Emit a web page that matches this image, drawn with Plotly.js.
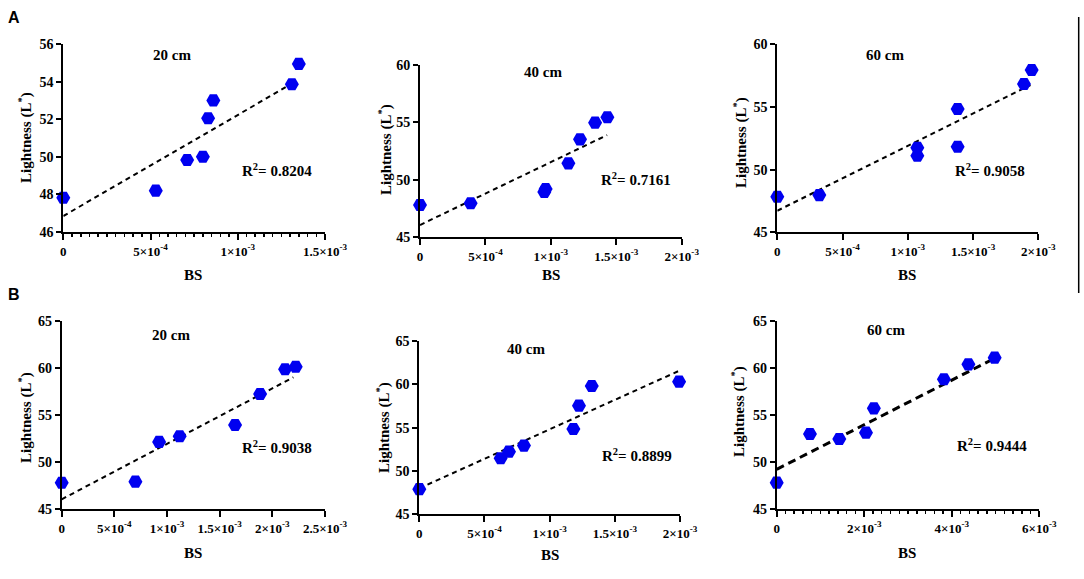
<!DOCTYPE html>
<html>
<head>
<meta charset="utf-8">
<script src="https://cdn.plot.ly/plotly-3.0.1.min.js"></script>
<style>
  html, body { margin: 0; padding: 0; background: #fff; }
  #chart { width: 1084px; height: 579px; }
</style>
</head>
<body>
<div id="chart"></div>
<script>
// Lightness (L*) against BS, row A and row B, three depths each.

// ---- data ----
const bsA20 = [0, 5.3e-4, 7.1e-4, 8.0e-4, 8.3e-4, 8.6e-4, 1.31e-3, 1.35e-3];
const lA20  = [47.82, 48.2, 49.83, 50.0, 52.05, 53.0, 53.86, 54.94];
const fitA20X = [0, 1.33e-3];
const fitA20Y = [46.85, 54.0];

const bsA40 = [0, 3.87e-4, 9.5e-4, 9.6e-4, 1.134e-3, 1.223e-3, 1.338e-3, 1.432e-3];
const lA40  = [47.81, 47.96, 48.95, 49.2, 51.44, 53.53, 54.98, 55.45];
const fitA40X = [0, 1.43e-3];
const fitA40Y = [46.07, 53.9];

const bsA60 = [0, 3.22e-4, 1.073e-3, 1.073e-3, 1.382e-3, 1.382e-3, 1.89e-3, 1.949e-3];
const lA60  = [47.84, 47.97, 51.75, 51.11, 54.84, 51.83, 56.83, 57.95];
const fitA60X = [0, 1.94e-3];
const fitA60Y = [46.72, 56.75];

const bsB20 = [0, 7.0e-4, 9.25e-4, 1.12e-3, 1.646e-3, 1.884e-3, 2.121e-3, 2.222e-3];
const lB20  = [47.82, 47.93, 52.15, 52.75, 53.94, 57.23, 59.85, 60.12];
const fitB20X = [0, 2.2e-3];
const fitB20Y = [46.06, 59.0];

const bsB40 = [0, 6.24e-4, 6.88e-4, 8.03e-4, 1.182e-3, 1.225e-3, 1.323e-3, 1.993e-3];
const lB40  = [47.9, 51.47, 52.23, 52.93, 54.85, 57.54, 59.81, 60.31];
const fitB40X = [0, 1.99e-3];
const fitB40Y = [48.0, 61.54];

const bsB60 = [0, 7.6e-4, 1.43e-3, 2.04e-3, 2.22e-3, 3.82e-3, 4.38e-3, 4.98e-3];
const lB60  = [47.8, 52.98, 52.45, 53.12, 55.71, 58.8, 60.39, 61.1];
const fitB60X = [0, 4.98e-3];
const fitB60Y = [49.22, 61.03];

const r2Labels = ['0.8204', '0.7161', '0.9058', '0.9038', '0.8899', '0.9444'];
const depthLabels = ['20 cm', '40 cm', '60 cm', '20 cm', '40 cm', '60 cm'];

const xTicksA20 = [0, 5e-4, 1e-3, 1.5e-3];
const xTextA20  = ['0', '5×10<sup>-4</sup>', '1×10<sup>-3</sup>', '1.5×10<sup>-3</sup>'];
const xTicks2m  = [0, 5e-4, 1e-3, 1.5e-3, 2e-3];
const xText2m   = ['0', '5×10<sup>-4</sup>', '1×10<sup>-3</sup>', '1.5×10<sup>-3</sup>', '2×10<sup>-3</sup>'];
const xTicksB20 = [0, 5e-4, 1e-3, 1.5e-3, 2e-3, 2.5e-3];
const xTextB20  = ['0', '5×10<sup>-4</sup>', '1×10<sup>-3</sup>', '1.5×10<sup>-3</sup>', '2×10<sup>-3</sup>', '2.5×10<sup>-3</sup>'];
const xTicksB60 = [0, 2e-3, 4e-3, 6e-3];
const xTextB60  = ['0', '2×10<sup>-3</sup>', '4×10<sup>-3</sup>', '6×10<sup>-3</sup>'];

const W = 1084, H = 579;
const SERIF = 'Liberation Serif, Times New Roman, serif';
const BLUE = '#0000f0';

const px = x => x / W;
const py = y => 1 - y / H;

// pixel boxes of each plot area: [left, right, top, bottom]
const panels = [
    { x: bsA20, y: lA20, fx: fitA20X, fy: fitA20Y, box: [63.3, 325, 44, 232],   xr: [0, 1.5e-3], yr: [46, 56], yd: 2, xt: xTicksA20, xl: xTextA20, minor: 5e-5,
      title: [171.7, 55], r2: [277, 170], ytitle: [26, 138], xtitle: [193, 275] },
    { x: bsA40, y: lA40, fx: fitA40X, fy: fitA40Y, box: [420, 681.7, 65, 237.3], xr: [0, 2e-3], yr: [45, 60], yd: 5, xt: xTicks2m, xl: xText2m, minor: null,
      title: [543, 72], r2: [636, 179], ytitle: [385, 150], xtitle: [551, 275] },
    { x: bsA60, y: lA60, fx: fitA60X, fy: fitA60Y, box: [777.3, 1038.3, 44.3, 232.3], xr: [0, 2e-3], yr: [45, 60], yd: 5, xt: xTicks2m, xl: xText2m, minor: null,
      title: [885, 55], r2: [990, 170], ytitle: [740, 143], xtitle: [907, 275] },
    { x: bsB20, y: lB20, fx: fitB20X, fy: fitB20Y, box: [61.7, 325, 320.7, 509.3], xr: [0, 2.5e-3], yr: [45, 65], yd: 5, xt: xTicksB20, xl: xTextB20, minor: null,
      title: [171, 335], r2: [277, 447], ytitle: [25, 418], xtitle: [193, 553] },
    { x: bsB40, y: lB40, fx: fitB40X, fy: fitB40Y, box: [419.3, 680, 341, 514.3], xr: [0, 2e-3], yr: [45, 65], yd: 5, xt: xTicks2m, xl: xText2m, minor: null,
      title: [526, 349], r2: [637, 455], ytitle: [383, 428], xtitle: [550, 555] },
    { x: bsB60, y: lB60, fx: fitB60X, fy: fitB60Y, box: [776.7, 1039.3, 321, 509], xr: [0, 6e-3], yr: [45, 65], yd: 5, xt: xTicksB60, xl: xTextB60, minor: 2e-4,
      title: [886, 330], r2: [992, 445], ytitle: [738, 412], xtitle: [907, 553] },
];

const traces = [];
const layout = {
    width: W, height: H,
    margin: { l: 0, r: 0, t: 0, b: 0 },
    paper_bgcolor: '#fff', plot_bgcolor: '#fff',
    showlegend: false,
    font: { family: SERIF, color: '#000' },
    annotations: [],
    shapes: [],
};

const xTickFont = { family: SERIF, size: 13, color: '#000', weight: 700 };
const yTickFont = { family: SERIF, size: 14, color: '#000', weight: 700 };
const labelFont = { family: SERIF, size: 15, color: '#000', weight: 700 };

// paper-anchored text, centred on the given pixel position
function label(text, [x, y], font, angle = 0) {
    return { text, x: px(x), y: py(y), xref: 'paper', yref: 'paper', xanchor: 'center', yanchor: 'middle',
             showarrow: false, textangle: angle, font };
}

panels.forEach((p, i) => {
    const n = i === 0 ? '' : String(i + 1);
    const xa = 'x' + n, ya = 'y' + n;
    const [l, r, t, b] = p.box;
    const thick = i === 5;

    traces.push({
        x: p.fx, y: p.fy, xaxis: xa, yaxis: ya,
        mode: 'lines', type: 'scatter', hoverinfo: 'skip', cliponaxis: false,
        line: { color: '#000', width: thick ? 3 : 2, dash: thick ? '8px,5px' : '5px,4px' },
    });
    traces.push({
        x: p.x, y: p.y, xaxis: xa, yaxis: ya,
        mode: 'markers', type: 'scatter', cliponaxis: false,
        marker: { symbol: 'hexagon2', size: 14, color: BLUE, line: { width: 0 } },
    });

    const xaxis = {
        domain: [px(l), px(r)], anchor: ya, range: p.xr,
        showgrid: false, zeroline: false,
        showline: true, linecolor: '#000', linewidth: 2,
        ticks: 'outside', ticklen: 6, tickwidth: 2, tickcolor: '#000',
        tickmode: 'array', tickvals: p.xt, ticktext: p.xl,
        tickfont: xTickFont,
    };
    if (p.minor) {
        xaxis.minor = { tickmode: 'linear', tick0: 0, dtick: p.minor, ticks: 'outside', ticklen: 3, tickwidth: 1.5, tickcolor: '#000', showgrid: false };
    }
    layout['xaxis' + n] = xaxis;
    layout['yaxis' + n] = {
        domain: [py(b), py(t)], anchor: xa, range: p.yr,
        showgrid: false, zeroline: false,
        showline: true, linecolor: '#000', linewidth: 2,
        ticks: 'outside', ticklen: 5, tickwidth: 2, tickcolor: '#000',
        tickmode: 'linear', tick0: p.yr[0], dtick: p.yd,
        tickfont: yTickFont,
    };

    layout.annotations.push(
        label(depthLabels[i], p.title, labelFont),
        label('R<sup>2</sup>= ' + r2Labels[i], p.r2, labelFont),
        label('Lightness (L<sup>*</sup>)', p.ytitle, labelFont, -90),
        label('BS', p.xtitle, labelFont),
    );
});

// panel letters
const letterFont = { family: 'Liberation Sans, Arial, sans-serif', size: 16, weight: 700, color: '#000' };
layout.annotations.push(label('A', [14, 17], letterFont), label('B', [14, 294], letterFont));

// thin frame edge at the right of row A
layout.shapes.push({ type: 'line', xref: 'paper', yref: 'paper', x0: px(1078.7), x1: px(1078.7), y0: py(17), y1: py(293), line: { color: '#000', width: 1.5 } });

Plotly.newPlot('chart', traces, layout, { displayModeBar: false, staticPlot: true });
</script>
</body>
</html>
